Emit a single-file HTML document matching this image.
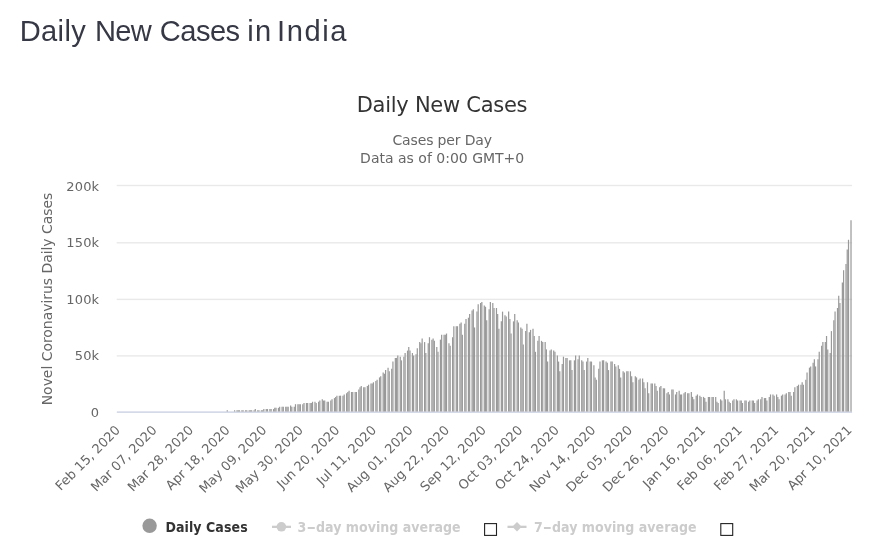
<!DOCTYPE html>
<html lang="en">
<head>
<meta charset="utf-8">
<title>Daily New Cases in India</title>
<style>
html,body{margin:0;padding:0;background:#fff;}
body{width:890px;height:559px;overflow:hidden;position:relative;font-family:"Liberation Sans",sans-serif;}
h3{position:absolute;left:0;top:13.4px;width:400px;height:36px;margin:0;font-family:"Liberation Sans",sans-serif;font-weight:400;font-size:29.1px;line-height:36px;color:#363945;white-space:pre;}
h3 span{position:absolute;top:0;}
svg{position:absolute;left:0;top:0;}
svg text{font-family:"DejaVu Sans","Liberation Sans",sans-serif;}
.ax text{font-size:13px;fill:#666;letter-spacing:0.12px;}
svg .lg text{font-family:"DejaVu Sans Condensed","DejaVu Sans","Liberation Sans",sans-serif;}
.axx text{font-size:13px;fill:#666;letter-spacing:0;}
</style>
</head>
<body>
<h3><span style="left:19.7px;letter-spacing:0.37px">Daily </span><span style="left:95px;letter-spacing:-0.7px">New </span><span style="left:159.7px;letter-spacing:-0.5px">Cases </span><span style="left:247.3px;letter-spacing:1.2px">in </span><span style="left:277.1px;letter-spacing:1.55px">India</span></h3>
<svg width="890" height="559" viewBox="0 0 890 559">
<text x="442.0" y="112.1" text-anchor="middle" font-size="21" fill="#333" letter-spacing="-0.27">Daily New Cases</text>
<text x="442.2" y="144.8" text-anchor="middle" font-size="14" fill="#666" letter-spacing="-0.15">Cases per Day</text>
<text x="442.2" y="162.6" text-anchor="middle" font-size="14" fill="#666" letter-spacing="0">Data as of 0:00 GMT+0</text>
<g>
<rect x="116.7" y="184.80" width="735.4" height="1.4" fill="#e9e9e9"/>
<rect x="116.7" y="242.10" width="735.4" height="1.4" fill="#e9e9e9"/>
<rect x="116.7" y="298.70" width="735.4" height="1.4" fill="#e9e9e9"/>
<rect x="116.7" y="355.20" width="735.4" height="1.4" fill="#e9e9e9"/>
</g>
<text transform="translate(52,299) rotate(-90)" text-anchor="middle" font-size="14" fill="#666" letter-spacing="-0.05">Novel Coronavirus Daily Cases</text>
<g class="ax">
<text x="99.2" y="190.70" text-anchor="end">200k</text>
<text x="99.2" y="247.15" text-anchor="end">150k</text>
<text x="99.2" y="303.60" text-anchor="end">100k</text>
<text x="99.2" y="360.05" text-anchor="end">50k</text>
<text x="99.2" y="416.50" text-anchor="end">0</text>
</g>

<rect x="116.8" y="411.5" width="735.3" height="1.2" fill="#c3cae0"/>
<g fill="#999">
<path d="M226.67 411.5v-1.22h1.218V411.5z"/>
<path d="M233.98 411.5v-1.22h1.218V411.5z"/>
<path d="M236.41 411.5v-1.22h1.218V411.5z"/>
<path d="M237.63 411.5v-1.22h1.218V411.5z"/>
<path d="M238.85 411.5v-1.22h1.218V411.5z"/>
<path d="M241.29 411.5v-1.22h1.218V411.5z"/>
<path d="M242.50 411.5v-1.22h1.218V411.5z"/>
<path d="M244.94 411.5v-1.22h1.218V411.5z"/>
<path d="M246.16 411.5v-1.22h1.218V411.5z"/>
<path d="M248.59 411.5v-1.22h1.218V411.5z"/>
<path d="M249.81 411.5v-1.22h1.218V411.5z"/>
<path d="M251.03 411.5v-1.22h1.218V411.5z"/>
<path d="M253.47 411.5v-1.22h1.218V411.5z"/>
<path d="M254.68 411.5v-2.44h1.218V411.5z"/>
<path d="M257.12 411.5v-1.22h1.218V411.5z"/>
<path d="M258.34 411.5v-1.22h1.218V411.5z"/>
<path d="M260.77 411.5v-1.22h1.218V411.5z"/>
<path d="M261.99 411.5v-1.22h1.218V411.5z"/>
<path d="M263.21 411.5v-2.44h1.218V411.5z"/>
<path d="M265.65 411.5v-2.44h1.218V411.5z"/>
<path d="M266.86 411.5v-2.44h1.218V411.5z"/>
<path d="M269.30 411.5v-2.44h1.218V411.5z"/>
<path d="M270.52 411.5v-2.44h1.218V411.5z"/>
<path d="M272.95 411.5v-2.44h1.218V411.5z"/>
<path d="M274.17 411.5v-3.65h1.218V411.5z"/>
<path d="M275.39 411.5v-3.65h1.218V411.5z"/>
<path d="M277.83 411.5v-3.65h1.218V411.5z"/>
<path d="M279.04 411.5v-4.87h1.218V411.5z"/>
<path d="M281.48 411.5v-4.87h1.218V411.5z"/>
<path d="M282.70 411.5v-4.87h1.218V411.5z"/>
<path d="M285.13 411.5v-4.87h1.218V411.5z"/>
<path d="M286.35 411.5v-4.87h1.218V411.5z"/>
<path d="M287.57 411.5v-4.87h1.218V411.5z"/>
<path d="M290.01 411.5v-6.09h1.218V411.5z"/>
<path d="M291.22 411.5v-4.87h1.218V411.5z"/>
<path d="M293.66 411.5v-4.87h1.218V411.5z"/>
<path d="M294.88 411.5v-7.31h1.218V411.5z"/>
<path d="M297.31 411.5v-7.31h1.218V411.5z"/>
<path d="M298.53 411.5v-7.31h1.218V411.5z"/>
<path d="M299.75 411.5v-7.31h1.218V411.5z"/>
<path d="M302.19 411.5v-7.31h1.218V411.5z"/>
<path d="M303.40 411.5v-8.53h1.218V411.5z"/>
<path d="M305.84 411.5v-8.53h1.218V411.5z"/>
<path d="M307.06 411.5v-8.53h1.218V411.5z"/>
<path d="M309.49 411.5v-8.53h1.218V411.5z"/>
<path d="M310.71 411.5v-8.53h1.218V411.5z"/>
<path d="M311.93 411.5v-9.74h1.218V411.5z"/>
<path d="M314.37 411.5v-9.74h1.218V411.5z"/>
<path d="M315.58 411.5v-8.53h1.218V411.5z"/>
<path d="M318.02 411.5v-9.74h1.218V411.5z"/>
<path d="M319.24 411.5v-10.96h1.218V411.5z"/>
<path d="M321.67 411.5v-12.18h1.218V411.5z"/>
<path d="M322.89 411.5v-10.96h1.218V411.5z"/>
<path d="M324.11 411.5v-10.96h1.218V411.5z"/>
<path d="M326.55 411.5v-9.74h1.218V411.5z"/>
<path d="M327.76 411.5v-9.74h1.218V411.5z"/>
<path d="M330.20 411.5v-10.96h1.218V411.5z"/>
<path d="M331.42 411.5v-12.18h1.218V411.5z"/>
<path d="M333.85 411.5v-13.40h1.218V411.5z"/>
<path d="M335.07 411.5v-14.62h1.218V411.5z"/>
<path d="M336.29 411.5v-15.83h1.218V411.5z"/>
<path d="M338.73 411.5v-15.83h1.218V411.5z"/>
<path d="M339.94 411.5v-15.83h1.218V411.5z"/>
<path d="M342.38 411.5v-15.83h1.218V411.5z"/>
<path d="M343.60 411.5v-17.05h1.218V411.5z"/>
<path d="M346.03 411.5v-18.27h1.218V411.5z"/>
<path d="M347.25 411.5v-19.49h1.218V411.5z"/>
<path d="M348.47 411.5v-20.71h1.218V411.5z"/>
<path d="M350.91 411.5v-19.49h1.218V411.5z"/>
<path d="M352.12 411.5v-19.49h1.218V411.5z"/>
<path d="M354.56 411.5v-19.49h1.218V411.5z"/>
<path d="M355.78 411.5v-19.49h1.218V411.5z"/>
<path d="M358.21 411.5v-21.92h1.218V411.5z"/>
<path d="M359.43 411.5v-24.36h1.218V411.5z"/>
<path d="M360.65 411.5v-25.58h1.218V411.5z"/>
<path d="M363.09 411.5v-24.36h1.218V411.5z"/>
<path d="M364.30 411.5v-24.36h1.218V411.5z"/>
<path d="M366.74 411.5v-25.58h1.218V411.5z"/>
<path d="M367.96 411.5v-26.80h1.218V411.5z"/>
<path d="M370.39 411.5v-28.01h1.218V411.5z"/>
<path d="M371.61 411.5v-28.01h1.218V411.5z"/>
<path d="M372.83 411.5v-29.23h1.218V411.5z"/>
<path d="M375.27 411.5v-30.45h1.218V411.5z"/>
<path d="M376.48 411.5v-31.67h1.218V411.5z"/>
<path d="M378.92 411.5v-34.10h1.218V411.5z"/>
<path d="M380.14 411.5v-35.32h1.218V411.5z"/>
<path d="M382.57 411.5v-38.98h1.218V411.5z"/>
<path d="M383.79 411.5v-37.76h1.218V411.5z"/>
<path d="M385.01 411.5v-41.41h1.218V411.5z"/>
<path d="M387.45 411.5v-43.85h1.218V411.5z"/>
<path d="M388.66 411.5v-40.19h1.218V411.5z"/>
<path d="M391.10 411.5v-42.63h1.218V411.5z"/>
<path d="M392.32 411.5v-49.94h1.218V411.5z"/>
<path d="M394.75 411.5v-53.59h1.218V411.5z"/>
<path d="M395.97 411.5v-53.59h1.218V411.5z"/>
<path d="M397.19 411.5v-56.03h1.218V411.5z"/>
<path d="M399.63 411.5v-54.81h1.218V411.5z"/>
<path d="M400.84 411.5v-51.16h1.218V411.5z"/>
<path d="M403.28 411.5v-54.81h1.218V411.5z"/>
<path d="M404.50 411.5v-58.46h1.218V411.5z"/>
<path d="M406.93 411.5v-60.90h1.218V411.5z"/>
<path d="M408.15 411.5v-64.55h1.218V411.5z"/>
<path d="M409.37 411.5v-60.90h1.218V411.5z"/>
<path d="M411.81 411.5v-58.46h1.218V411.5z"/>
<path d="M413.02 411.5v-56.03h1.218V411.5z"/>
<path d="M415.46 411.5v-57.25h1.218V411.5z"/>
<path d="M416.68 411.5v-63.34h1.218V411.5z"/>
<path d="M419.11 411.5v-69.43h1.218V411.5z"/>
<path d="M420.33 411.5v-68.21h1.218V411.5z"/>
<path d="M421.55 411.5v-73.08h1.218V411.5z"/>
<path d="M423.99 411.5v-69.43h1.218V411.5z"/>
<path d="M425.20 411.5v-58.46h1.218V411.5z"/>
<path d="M427.64 411.5v-68.21h1.218V411.5z"/>
<path d="M428.86 411.5v-74.30h1.218V411.5z"/>
<path d="M431.29 411.5v-71.86h1.218V411.5z"/>
<path d="M432.51 411.5v-73.08h1.218V411.5z"/>
<path d="M433.73 411.5v-70.64h1.218V411.5z"/>
<path d="M436.17 411.5v-64.55h1.218V411.5z"/>
<path d="M437.38 411.5v-59.68h1.218V411.5z"/>
<path d="M439.82 411.5v-71.86h1.218V411.5z"/>
<path d="M441.04 411.5v-76.73h1.218V411.5z"/>
<path d="M443.47 411.5v-76.73h1.218V411.5z"/>
<path d="M444.69 411.5v-76.73h1.218V411.5z"/>
<path d="M445.91 411.5v-77.95h1.218V411.5z"/>
<path d="M448.35 411.5v-68.21h1.218V411.5z"/>
<path d="M449.56 411.5v-65.77h1.218V411.5z"/>
<path d="M452.00 411.5v-74.30h1.218V411.5z"/>
<path d="M453.22 411.5v-85.26h1.218V411.5z"/>
<path d="M455.65 411.5v-85.26h1.218V411.5z"/>
<path d="M456.87 411.5v-85.26h1.218V411.5z"/>
<path d="M459.31 411.5v-87.70h1.218V411.5z"/>
<path d="M460.53 411.5v-88.91h1.218V411.5z"/>
<path d="M461.74 411.5v-76.73h1.218V411.5z"/>
<path d="M464.18 411.5v-87.70h1.218V411.5z"/>
<path d="M465.40 411.5v-92.57h1.218V411.5z"/>
<path d="M467.83 411.5v-93.79h1.218V411.5z"/>
<path d="M469.05 411.5v-97.44h1.218V411.5z"/>
<path d="M471.49 411.5v-101.09h1.218V411.5z"/>
<path d="M472.71 411.5v-102.31h1.218V411.5z"/>
<path d="M473.92 411.5v-84.04h1.218V411.5z"/>
<path d="M476.36 411.5v-99.88h1.218V411.5z"/>
<path d="M477.58 411.5v-107.18h1.218V411.5z"/>
<path d="M480.01 411.5v-108.40h1.218V411.5z"/>
<path d="M481.23 411.5v-109.62h1.218V411.5z"/>
<path d="M483.67 411.5v-105.97h1.218V411.5z"/>
<path d="M484.89 411.5v-104.75h1.218V411.5z"/>
<path d="M486.10 411.5v-91.35h1.218V411.5z"/>
<path d="M488.54 411.5v-102.31h1.218V411.5z"/>
<path d="M489.76 411.5v-109.62h1.218V411.5z"/>
<path d="M492.19 411.5v-108.40h1.218V411.5z"/>
<path d="M493.41 411.5v-103.53h1.218V411.5z"/>
<path d="M495.85 411.5v-103.53h1.218V411.5z"/>
<path d="M497.07 411.5v-97.44h1.218V411.5z"/>
<path d="M498.28 411.5v-82.82h1.218V411.5z"/>
<path d="M500.72 411.5v-90.13h1.218V411.5z"/>
<path d="M501.94 411.5v-99.88h1.218V411.5z"/>
<path d="M504.37 411.5v-96.22h1.218V411.5z"/>
<path d="M505.59 411.5v-95.00h1.218V411.5z"/>
<path d="M508.03 411.5v-99.88h1.218V411.5z"/>
<path d="M509.25 411.5v-92.57h1.218V411.5z"/>
<path d="M510.46 411.5v-77.95h1.218V411.5z"/>
<path d="M512.90 411.5v-90.13h1.218V411.5z"/>
<path d="M514.12 411.5v-97.44h1.218V411.5z"/>
<path d="M516.55 411.5v-91.35h1.218V411.5z"/>
<path d="M517.77 411.5v-88.91h1.218V411.5z"/>
<path d="M520.21 411.5v-84.04h1.218V411.5z"/>
<path d="M521.43 411.5v-82.82h1.218V411.5z"/>
<path d="M522.64 411.5v-66.99h1.218V411.5z"/>
<path d="M525.08 411.5v-80.39h1.218V411.5z"/>
<path d="M526.30 411.5v-87.70h1.218V411.5z"/>
<path d="M528.73 411.5v-79.17h1.218V411.5z"/>
<path d="M529.95 411.5v-81.61h1.218V411.5z"/>
<path d="M532.39 411.5v-82.82h1.218V411.5z"/>
<path d="M533.61 411.5v-75.52h1.218V411.5z"/>
<path d="M534.82 411.5v-59.68h1.218V411.5z"/>
<path d="M537.26 411.5v-70.64h1.218V411.5z"/>
<path d="M538.48 411.5v-75.52h1.218V411.5z"/>
<path d="M540.91 411.5v-70.64h1.218V411.5z"/>
<path d="M542.13 411.5v-69.43h1.218V411.5z"/>
<path d="M544.57 411.5v-69.43h1.218V411.5z"/>
<path d="M545.79 411.5v-62.12h1.218V411.5z"/>
<path d="M547.00 411.5v-49.94h1.218V411.5z"/>
<path d="M549.44 411.5v-60.90h1.218V411.5z"/>
<path d="M550.66 411.5v-62.12h1.218V411.5z"/>
<path d="M553.09 411.5v-60.90h1.218V411.5z"/>
<path d="M554.31 411.5v-59.68h1.218V411.5z"/>
<path d="M556.75 411.5v-56.03h1.218V411.5z"/>
<path d="M557.97 411.5v-49.94h1.218V411.5z"/>
<path d="M559.18 411.5v-40.19h1.218V411.5z"/>
<path d="M561.62 411.5v-47.50h1.218V411.5z"/>
<path d="M562.84 411.5v-54.81h1.218V411.5z"/>
<path d="M565.27 411.5v-53.59h1.218V411.5z"/>
<path d="M566.49 411.5v-53.59h1.218V411.5z"/>
<path d="M568.93 411.5v-51.16h1.218V411.5z"/>
<path d="M570.15 411.5v-51.16h1.218V411.5z"/>
<path d="M571.36 411.5v-41.41h1.218V411.5z"/>
<path d="M573.80 411.5v-51.16h1.218V411.5z"/>
<path d="M575.02 411.5v-56.03h1.218V411.5z"/>
<path d="M577.45 411.5v-52.37h1.218V411.5z"/>
<path d="M578.67 411.5v-56.03h1.218V411.5z"/>
<path d="M581.11 411.5v-51.16h1.218V411.5z"/>
<path d="M582.33 411.5v-49.94h1.218V411.5z"/>
<path d="M583.54 411.5v-41.41h1.218V411.5z"/>
<path d="M585.98 411.5v-49.94h1.218V411.5z"/>
<path d="M587.20 411.5v-53.59h1.218V411.5z"/>
<path d="M589.63 411.5v-49.94h1.218V411.5z"/>
<path d="M590.85 411.5v-49.94h1.218V411.5z"/>
<path d="M593.29 411.5v-46.28h1.218V411.5z"/>
<path d="M594.51 411.5v-34.10h1.218V411.5z"/>
<path d="M595.72 411.5v-31.67h1.218V411.5z"/>
<path d="M598.16 411.5v-42.63h1.218V411.5z"/>
<path d="M599.38 411.5v-49.94h1.218V411.5z"/>
<path d="M601.81 411.5v-51.16h1.218V411.5z"/>
<path d="M603.03 411.5v-51.16h1.218V411.5z"/>
<path d="M605.47 411.5v-49.94h1.218V411.5z"/>
<path d="M606.69 411.5v-48.72h1.218V411.5z"/>
<path d="M607.90 411.5v-41.41h1.218V411.5z"/>
<path d="M610.34 411.5v-49.94h1.218V411.5z"/>
<path d="M611.56 411.5v-49.94h1.218V411.5z"/>
<path d="M613.99 411.5v-47.50h1.218V411.5z"/>
<path d="M615.21 411.5v-45.07h1.218V411.5z"/>
<path d="M617.65 411.5v-46.28h1.218V411.5z"/>
<path d="M618.87 411.5v-42.63h1.218V411.5z"/>
<path d="M620.08 411.5v-34.10h1.218V411.5z"/>
<path d="M622.52 411.5v-40.19h1.218V411.5z"/>
<path d="M623.74 411.5v-38.98h1.218V411.5z"/>
<path d="M626.17 411.5v-40.19h1.218V411.5z"/>
<path d="M627.39 411.5v-40.19h1.218V411.5z"/>
<path d="M629.83 411.5v-40.19h1.218V411.5z"/>
<path d="M631.05 411.5v-35.32h1.218V411.5z"/>
<path d="M632.26 411.5v-29.23h1.218V411.5z"/>
<path d="M634.70 411.5v-35.32h1.218V411.5z"/>
<path d="M635.92 411.5v-34.10h1.218V411.5z"/>
<path d="M638.35 411.5v-31.67h1.218V411.5z"/>
<path d="M639.57 411.5v-32.89h1.218V411.5z"/>
<path d="M642.01 411.5v-32.89h1.218V411.5z"/>
<path d="M643.23 411.5v-29.23h1.218V411.5z"/>
<path d="M644.44 411.5v-23.14h1.218V411.5z"/>
<path d="M646.88 411.5v-29.23h1.218V411.5z"/>
<path d="M648.10 411.5v-18.27h1.218V411.5z"/>
<path d="M650.53 411.5v-28.01h1.218V411.5z"/>
<path d="M651.75 411.5v-28.01h1.218V411.5z"/>
<path d="M654.19 411.5v-28.01h1.218V411.5z"/>
<path d="M655.41 411.5v-25.58h1.218V411.5z"/>
<path d="M656.62 411.5v-20.71h1.218V411.5z"/>
<path d="M659.06 411.5v-24.36h1.218V411.5z"/>
<path d="M660.28 411.5v-25.58h1.218V411.5z"/>
<path d="M662.71 411.5v-23.14h1.218V411.5z"/>
<path d="M663.93 411.5v-23.14h1.218V411.5z"/>
<path d="M666.37 411.5v-18.27h1.218V411.5z"/>
<path d="M667.59 411.5v-19.49h1.218V411.5z"/>
<path d="M668.80 411.5v-17.05h1.218V411.5z"/>
<path d="M671.24 411.5v-21.92h1.218V411.5z"/>
<path d="M672.46 411.5v-21.92h1.218V411.5z"/>
<path d="M674.89 411.5v-17.05h1.218V411.5z"/>
<path d="M676.11 411.5v-19.49h1.218V411.5z"/>
<path d="M678.55 411.5v-20.71h1.218V411.5z"/>
<path d="M679.77 411.5v-17.05h1.218V411.5z"/>
<path d="M680.98 411.5v-17.05h1.218V411.5z"/>
<path d="M683.42 411.5v-18.27h1.218V411.5z"/>
<path d="M684.64 411.5v-19.49h1.218V411.5z"/>
<path d="M687.07 411.5v-18.27h1.218V411.5z"/>
<path d="M688.29 411.5v-18.27h1.218V411.5z"/>
<path d="M690.73 411.5v-19.49h1.218V411.5z"/>
<path d="M691.95 411.5v-14.62h1.218V411.5z"/>
<path d="M693.16 411.5v-12.18h1.218V411.5z"/>
<path d="M695.60 411.5v-15.83h1.218V411.5z"/>
<path d="M696.82 411.5v-17.05h1.218V411.5z"/>
<path d="M699.25 411.5v-15.83h1.218V411.5z"/>
<path d="M700.47 411.5v-14.62h1.218V411.5z"/>
<path d="M702.91 411.5v-14.62h1.218V411.5z"/>
<path d="M704.13 411.5v-13.40h1.218V411.5z"/>
<path d="M705.34 411.5v-9.74h1.218V411.5z"/>
<path d="M707.78 411.5v-14.62h1.218V411.5z"/>
<path d="M709.00 411.5v-14.62h1.218V411.5z"/>
<path d="M711.43 411.5v-14.62h1.218V411.5z"/>
<path d="M712.65 411.5v-14.62h1.218V411.5z"/>
<path d="M715.09 411.5v-14.62h1.218V411.5z"/>
<path d="M716.31 411.5v-9.74h1.218V411.5z"/>
<path d="M717.52 411.5v-8.53h1.218V411.5z"/>
<path d="M719.96 411.5v-12.18h1.218V411.5z"/>
<path d="M721.18 411.5v-10.96h1.218V411.5z"/>
<path d="M723.61 411.5v-20.71h1.218V411.5z"/>
<path d="M724.83 411.5v-12.18h1.218V411.5z"/>
<path d="M727.27 411.5v-12.18h1.218V411.5z"/>
<path d="M728.49 411.5v-9.74h1.218V411.5z"/>
<path d="M729.70 411.5v-8.53h1.218V411.5z"/>
<path d="M732.14 411.5v-10.96h1.218V411.5z"/>
<path d="M733.36 411.5v-12.18h1.218V411.5z"/>
<path d="M735.79 411.5v-12.18h1.218V411.5z"/>
<path d="M737.01 411.5v-10.96h1.218V411.5z"/>
<path d="M739.45 411.5v-10.96h1.218V411.5z"/>
<path d="M740.67 411.5v-10.96h1.218V411.5z"/>
<path d="M741.88 411.5v-8.53h1.218V411.5z"/>
<path d="M744.32 411.5v-10.96h1.218V411.5z"/>
<path d="M745.54 411.5v-10.96h1.218V411.5z"/>
<path d="M747.97 411.5v-9.74h1.218V411.5z"/>
<path d="M749.19 411.5v-10.96h1.218V411.5z"/>
<path d="M751.63 411.5v-10.96h1.218V411.5z"/>
<path d="M752.85 411.5v-10.96h1.218V411.5z"/>
<path d="M754.06 411.5v-8.53h1.218V411.5z"/>
<path d="M756.50 411.5v-10.96h1.218V411.5z"/>
<path d="M757.72 411.5v-12.18h1.218V411.5z"/>
<path d="M760.15 411.5v-12.18h1.218V411.5z"/>
<path d="M761.37 411.5v-14.62h1.218V411.5z"/>
<path d="M763.81 411.5v-13.40h1.218V411.5z"/>
<path d="M765.03 411.5v-13.40h1.218V411.5z"/>
<path d="M766.24 411.5v-10.96h1.218V411.5z"/>
<path d="M768.68 411.5v-14.62h1.218V411.5z"/>
<path d="M769.90 411.5v-17.05h1.218V411.5z"/>
<path d="M772.33 411.5v-17.05h1.218V411.5z"/>
<path d="M773.55 411.5v-15.83h1.218V411.5z"/>
<path d="M775.99 411.5v-17.05h1.218V411.5z"/>
<path d="M777.21 411.5v-14.62h1.218V411.5z"/>
<path d="M778.42 411.5v-12.18h1.218V411.5z"/>
<path d="M780.86 411.5v-15.83h1.218V411.5z"/>
<path d="M782.08 411.5v-17.05h1.218V411.5z"/>
<path d="M784.51 411.5v-17.05h1.218V411.5z"/>
<path d="M785.73 411.5v-18.27h1.218V411.5z"/>
<path d="M788.17 411.5v-19.49h1.218V411.5z"/>
<path d="M789.39 411.5v-19.49h1.218V411.5z"/>
<path d="M790.60 411.5v-15.83h1.218V411.5z"/>
<path d="M793.04 411.5v-19.49h1.218V411.5z"/>
<path d="M794.26 411.5v-24.36h1.218V411.5z"/>
<path d="M796.69 411.5v-25.58h1.218V411.5z"/>
<path d="M797.91 411.5v-26.80h1.218V411.5z"/>
<path d="M800.35 411.5v-26.80h1.218V411.5z"/>
<path d="M801.57 411.5v-29.23h1.218V411.5z"/>
<path d="M802.78 411.5v-26.80h1.218V411.5z"/>
<path d="M805.22 411.5v-31.67h1.218V411.5z"/>
<path d="M806.44 411.5v-38.98h1.218V411.5z"/>
<path d="M808.87 411.5v-43.85h1.218V411.5z"/>
<path d="M810.09 411.5v-45.07h1.218V411.5z"/>
<path d="M812.53 411.5v-48.72h1.218V411.5z"/>
<path d="M813.75 411.5v-52.37h1.218V411.5z"/>
<path d="M814.96 411.5v-45.07h1.218V411.5z"/>
<path d="M817.40 411.5v-52.37h1.218V411.5z"/>
<path d="M818.62 411.5v-59.68h1.218V411.5z"/>
<path d="M821.05 411.5v-65.77h1.218V411.5z"/>
<path d="M822.27 411.5v-69.43h1.218V411.5z"/>
<path d="M824.71 411.5v-69.43h1.218V411.5z"/>
<path d="M825.93 411.5v-75.52h1.218V411.5z"/>
<path d="M827.14 411.5v-62.12h1.218V411.5z"/>
<path d="M829.58 411.5v-58.46h1.218V411.5z"/>
<path d="M830.80 411.5v-80.39h1.218V411.5z"/>
<path d="M833.23 411.5v-91.35h1.218V411.5z"/>
<path d="M834.45 411.5v-99.88h1.218V411.5z"/>
<path d="M836.89 411.5v-103.53h1.218V411.5z"/>
<path d="M838.11 411.5v-115.71h1.218V411.5z"/>
<path d="M839.32 411.5v-108.40h1.218V411.5z"/>
<path d="M841.76 411.5v-129.11h1.218V411.5z"/>
<path d="M842.98 411.5v-141.29h1.218V411.5z"/>
<path d="M845.41 411.5v-147.38h1.218V411.5z"/>
<path d="M846.63 411.5v-161.99h1.218V411.5z"/>
<path d="M847.90 411.5v-171.74h1.218V411.5z"/>
<path d="M850.40 411.5v-191.23h1.218V411.5z"/>
</g>
<g class="axx">
<text transform="translate(120.97,431.00) rotate(-45)" text-anchor="end">Feb 15, 2020</text>
<text transform="translate(157.55,431.00) rotate(-45)" text-anchor="end">Mar 07, 2020</text>
<text transform="translate(194.12,431.00) rotate(-45)" text-anchor="end">Mar 28, 2020</text>
<text transform="translate(230.70,431.00) rotate(-45)" text-anchor="end">Apr 18, 2020</text>
<text transform="translate(267.27,431.00) rotate(-45)" text-anchor="end">May 09, 2020</text>
<text transform="translate(303.85,431.00) rotate(-45)" text-anchor="end">May 30, 2020</text>
<text transform="translate(340.43,431.00) rotate(-45)" text-anchor="end">Jun 20, 2020</text>
<text transform="translate(377.00,431.00) rotate(-45)" text-anchor="end">Jul 11, 2020</text>
<text transform="translate(413.58,431.00) rotate(-45)" text-anchor="end">Aug 01, 2020</text>
<text transform="translate(450.15,431.00) rotate(-45)" text-anchor="end">Aug 22, 2020</text>
<text transform="translate(486.73,431.00) rotate(-45)" text-anchor="end">Sep 12, 2020</text>
<text transform="translate(523.30,431.00) rotate(-45)" text-anchor="end">Oct 03, 2020</text>
<text transform="translate(559.88,431.00) rotate(-45)" text-anchor="end">Oct 24, 2020</text>
<text transform="translate(596.46,431.00) rotate(-45)" text-anchor="end">Nov 14, 2020</text>
<text transform="translate(633.03,431.00) rotate(-45)" text-anchor="end">Dec 05, 2020</text>
<text transform="translate(669.61,431.00) rotate(-45)" text-anchor="end">Dec 26, 2020</text>
<text transform="translate(706.18,431.00) rotate(-45)" text-anchor="end">Jan 16, 2021</text>
<text transform="translate(742.76,431.00) rotate(-45)" text-anchor="end">Feb 06, 2021</text>
<text transform="translate(779.34,431.00) rotate(-45)" text-anchor="end">Feb 27, 2021</text>
<text transform="translate(815.91,431.00) rotate(-45)" text-anchor="end">Mar 20, 2021</text>
<text transform="translate(852.49,431.00) rotate(-45)" text-anchor="end">Apr 10, 2021</text>
</g>
<g class="lg" font-size="14" font-weight="bold" letter-spacing="0.04">
<circle cx="149.6" cy="525.8" r="7.2" fill="#999"/>
<text x="165.4" y="531.8" fill="#333" letter-spacing="0.08">Daily Cases</text>
<g fill="#ccc">
<rect x="272" y="525.7" width="19" height="2.3"/>
<circle cx="281.4" cy="526.8" r="4.8"/>
<text x="297.6" y="531.8">3<tspan textLength="9.6" lengthAdjust="spacingAndGlyphs">-</tspan>day moving average</text>
<rect x="507.5" y="525.7" width="19" height="2.3"/>
<path d="M517 522.1l4.7 4.7l-4.7 4.7l-4.7-4.7z"/>
<text x="534" y="531.8">7<tspan textLength="9.2" lengthAdjust="spacingAndGlyphs">-</tspan>day moving average</text>
</g>
<rect x="484.6" y="523.6" width="11.9" height="11.8" fill="#fff" stroke="#222" stroke-width="1.1"/>
<rect x="720.8" y="523.6" width="11.9" height="11.8" fill="#fff" stroke="#222" stroke-width="1.1"/>
</g>
</svg>
</body>
</html>
